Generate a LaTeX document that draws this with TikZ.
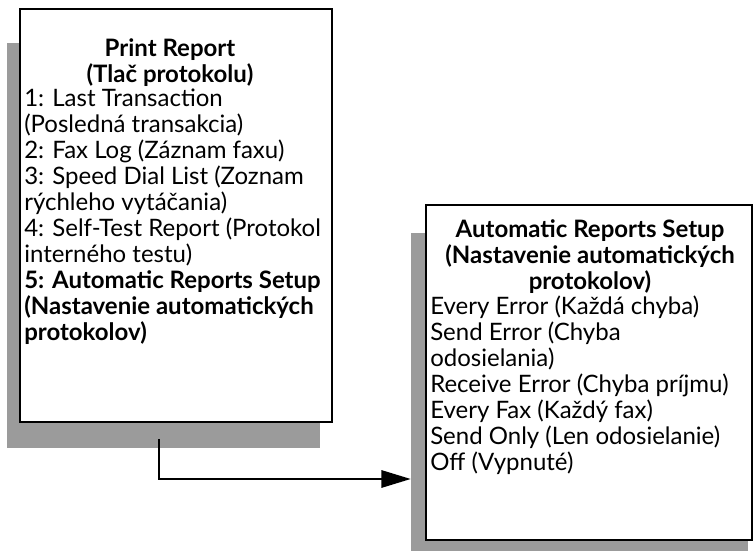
\documentclass[tikz,border=0pt]{standalone}
\usepackage{fontspec}
\setmainfont{Lato}
\usetikzlibrary{arrows.meta,positioning,fit}
\definecolor{shadowgray}{RGB}{155,155,155}
\newcommand\menufont{\fontsize{18}{19.5}\selectfont}
\tikzset{
  panel/.style={draw=black,line width=2pt,fill=white,inner sep=0pt},
  dropshade/.style={fill=shadowgray,draw=none,inner sep=0pt},
  menutitle/.style={anchor=north,inner sep=0pt,align=center,font=\menufont\bfseries},
  menutext/.style={anchor=north west,inner sep=0pt,align=left,font=\menufont},
  flow/.style={line width=1.5pt,-{Triangle[length=22pt,width=13pt]}}
}
\begin{document}
\begin{tikzpicture}[x=0.75pt,y=0.75pt,yscale=-1,xscale=1]
\useasboundingbox (0,0) rectangle (754,552);
%Shadows
\node [dropshade, fit={(7,43) (320,448)}] (reportShadow) {};
\node [dropshade, fit={(411,233) (748,551)}] (autoShadow) {};
%Boxes
\node [panel, fit={(20,9) (332,422)}] (report) {};
\node [panel, fit={(426,205) (752,540)}] (auto) {};
% Text Node
\node [menutitle] (reportTitle) at (170,38) {Print Report\\(Tlač protokolu)};
\node [menutext] (reportText) at (24,89) {1: Last Transaction\\
(Posledná transakcia)\\
2: Fax Log (Záznam faxu)\\
3: Speed Dial List (Zoznam\\
rýchleho vytáčania)\\
4: Self-Test Report (Protokol\\
interného testu)\\
\textbf{5: Automatic Reports Setup}\\
\textbf{(Nastavenie automatických}\\
\textbf{protokolov)}};
% Text Node
\node [menutitle] (autoTitle) at (590,219) {Automatic Reports Setup\\(Nastavenie automatických\\protokolov)};
\node [menutext] (autoText) at (430,296) {Every Error (Každá chyba)\\
Send Error (Chyba\\
odosielania)\\
Receive Error (Chyba príjmu)\\
Every Fax (Každý fax)\\
Send Only (Len odosielanie)\\
Off (Vypnuté)};
%Connector
\coordinate (tap) at (159,439);
\coordinate (bend) at (159,479);
\draw [flow] (tap) -- (bend) -- (bend -| autoShadow.west);
\end{tikzpicture}
\end{document}
